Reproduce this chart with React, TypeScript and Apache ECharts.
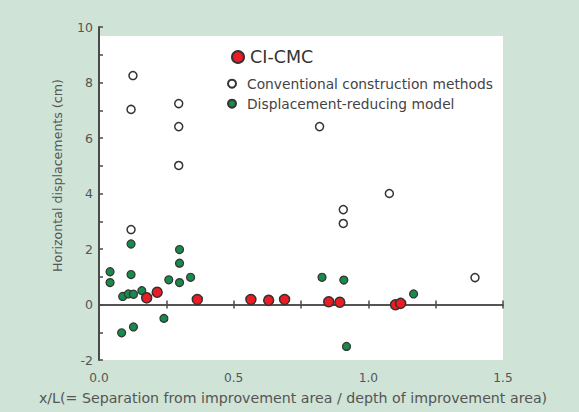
import React, { useEffect, useRef } from "react";
import * as echarts from "echarts";

const FONT = "'DejaVu Sans', 'Liberation Sans', Arial, sans-serif";

const xTickValues = [0, 0.5, 1.0, 1.5];
const yTickValues = [-2, 0, 2, 4, 6, 8, 10];

const seriesNames = [
  "CI-CMC",
  "Conventional construction methods",
  "Displacement-reducing model",
];

const ciCmcX = [0.177, 0.216, 0.365, 0.564, 0.63, 0.689, 0.853, 0.894, 1.101, 1.12];
const ciCmcY = [0.24, 0.44, 0.18, 0.18, 0.15, 0.18, 0.1, 0.08, -0.01, 0.04];

const convX = [0.126, 0.119, 0.296, 0.296, 0.296, 0.819, 0.907, 0.907, 1.078, 1.396, 0.119];
const convY = [8.25, 7.03, 7.24, 6.41, 5.01, 6.41, 3.42, 2.92, 4.0, 0.97, 2.7];

const dispX = [0.041, 0.041, 0.119, 0.119, 0.088, 0.109, 0.128, 0.159, 0.084, 0.128, 0.241, 0.259, 0.299, 0.299, 0.299, 0.34, 0.828, 0.909, 0.919, 1.168];
const dispY = [1.18, 0.79, 2.18, 1.08, 0.29, 0.38, 0.37, 0.5, -1.02, -0.81, -0.5, 0.89, 1.98, 1.49, 0.79, 0.98, 0.98, 0.88, -1.51, 0.38];

const zip = (xs: number[], ys: number[]) => xs.map((x, i) => [x, ys[i]]);

export default function App() {
  const ref = useRef<HTMLDivElement>(null);
  useEffect(() => {
    if (!ref.current) return;
    const chart = echarts.init(ref.current, undefined, { renderer: "svg" });
    const axisColor = "#4a4a4a";
    const labelColor = "#555";
    const zeroAxis = (inside: boolean) => ({
      type: "value",
      min: 0,
      max: 1.5,
      interval: 0.25,
      position: "bottom",
      axisLine: {
        show: true,
        onZero: true,
        onZeroAxisIndex: 0,
        lineStyle: { color: axisColor, width: 1.5 },
      },
      axisTick: { show: true, inside, length: 4, lineStyle: { color: axisColor, width: 1.5 } },
      axisLabel: { show: false },
      splitLine: { show: false },
    });
    chart.setOption({
      animation: false,
      backgroundColor: "#cfe3d6",
      textStyle: { fontFamily: FONT },
      grid: { left: 99, right: 76, top: 27, bottom: 52, containLabel: false },
      graphic: [
        {
          type: "rect",
          z: -10,
          shape: { x: 99, y: 36, width: 404, height: 324 },
          style: { fill: "#ffffff" },
          silent: true,
        },
      ],
      legend: [
        {
          data: [{ name: seriesNames[0], icon: "circle" }],
          left: 231,
          top: 48,
          padding: 0,
          itemWidth: 14,
          itemHeight: 12,
          selectedMode: false,
          textStyle: { fontSize: 17.5, color: "#333", fontFamily: FONT },
        },
        {
          data: [{ name: seriesNames[1], icon: "circle" }],
          left: 227,
          top: 76.7,
          padding: 0,
          itemWidth: 20,
          itemHeight: 8,
          selectedMode: false,
          textStyle: { fontSize: 13.8, color: "#444", fontFamily: FONT },
        },
        {
          data: [{ name: seriesNames[2], icon: "circle" }],
          left: 227,
          top: 96.7,
          padding: 0,
          itemWidth: 20,
          itemHeight: 8,
          selectedMode: false,
          textStyle: { fontSize: 13.8, color: "#444", fontFamily: FONT },
        },
      ],
      xAxis: [
        {
          type: "value",
          min: xTickValues[0],
          max: xTickValues[xTickValues.length - 1],
          interval: 0.5,
          position: "bottom",
          axisLine: { show: false, onZero: false },
          axisTick: { show: false },
          splitLine: { show: false },
          axisLabel: {
            margin: 12,
            fontSize: 12.2,
            color: labelColor,
            fontFamily: FONT,
            formatter: (v: number) => v.toFixed(1),
          },
          name: "x/L(= Separation from improvement area / depth of improvement area)",
          nameLocation: "middle",
          nameGap: 31,
          nameTextStyle: { fontSize: 14.2, color: labelColor, fontFamily: FONT, padding: [0, 16, 0, 0] },
        },
        zeroAxis(true),
        zeroAxis(false),
      ],
      yAxis: {
        type: "value",
        min: yTickValues[0],
        max: yTickValues[yTickValues.length - 1],
        interval: 2,
        axisLine: { show: true, onZero: false, lineStyle: { color: axisColor, width: 2 } },
        axisTick: { show: true, inside: true, length: 4, lineStyle: { color: axisColor, width: 1.5 } },
        minorTick: { show: true, splitNumber: 2, length: 4, lineStyle: { color: axisColor, width: 1.5 } },
        splitLine: { show: false },
        minorSplitLine: { show: false },
        axisLabel: { margin: 6, fontSize: 12.5, color: labelColor, fontFamily: FONT },
        name: "Horizontal displacements (cm)",
        nameLocation: "middle",
        nameGap: 35,
        nameRotate: 90,
        nameTextStyle: { fontSize: 12.6, color: labelColor, fontFamily: FONT, padding: [0, 0, 0, 36] },
      },
      series: [
        {
          name: seriesNames[1],
          type: "scatter",
          symbol: "circle",
          symbolSize: 8,
          data: zip(convX, convY),
          itemStyle: { color: "#ffffff", borderColor: "#333", borderWidth: 1.5, opacity: 1 },
          z: 2,
        },
        {
          name: seriesNames[2],
          type: "scatter",
          symbol: "circle",
          symbolSize: 8,
          data: zip(dispX, dispY),
          itemStyle: { color: "#178a4c", borderColor: "#333", borderWidth: 1.2, opacity: 1 },
          z: 3,
        },
        {
          name: seriesNames[0],
          type: "scatter",
          symbol: "circle",
          symbolSize: 10,
          data: zip(ciCmcX, ciCmcY),
          itemStyle: { color: "#ec1c24", borderColor: "#333", borderWidth: 1.5, opacity: 1 },
          z: 4,
        },
      ],
    });
    return () => chart.dispose();
  }, []);
  return (
    <div
      ref={ref}
      style={{ position: "absolute", left: 0, top: 0, width: 579, height: 412 }}
    />
  );
}
